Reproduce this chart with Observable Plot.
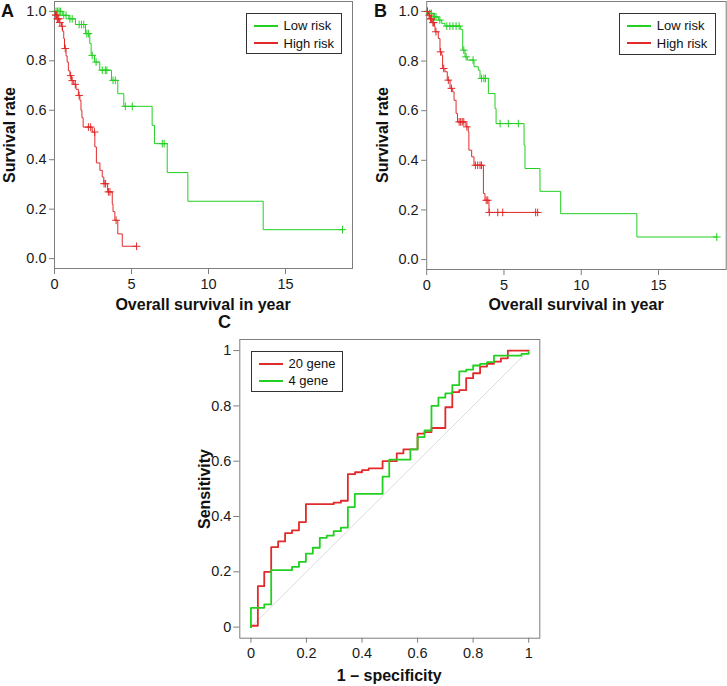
<!DOCTYPE html>
<html>
<head>
<meta charset="utf-8">
<script src="https://cdn.jsdelivr.net/npm/d3@7"></script>
<script src="https://cdn.jsdelivr.net/npm/@observablehq/plot@0.6"></script>
<style>
  html, body { margin: 0; padding: 0; background: #fff; }
  #root { position: relative; width: 727px; height: 686px; overflow: hidden; font-family: "Liberation Sans", Arial, sans-serif; color: #111; }
  .panel { position: absolute; }
  .panel svg { display: block; max-width: none; }
  .ttl { position: absolute; font-weight: bold; font-size: 16px; line-height: 16px; white-space: nowrap; color: #111; }
  .letter { position: absolute; font-weight: bold; font-size: 18px; line-height: 18px; color: #111; }
  .legend { position: absolute; box-sizing: border-box; border: 1px solid #333; background: #fff; font-size: 13px; }
  .legend .sw { position: absolute; height: 2px; }
  .legend .tx { position: absolute; line-height: 13px; white-space: nowrap; color: #111; }
</style>
</head>
<body>
<div id="root"></div>
<script>
// ---------- Data: Kaplan-Meier, panel A ----------
const lowA_t = [0, 0.50, 0.93, 1.36, 2.01, 2.29, 2.38, 2.60, 2.94, 3.70, 4.11, 4.50, 6.34, 6.49, 7.32, 8.66, 13.55];
const lowA_s = [1.0, 0.984, 0.970, 0.947, 0.910, 0.870, 0.822, 0.795, 0.762, 0.721, 0.667, 0.616, 0.539, 0.465, 0.348, 0.232, 0.117];
const lowA_end = 18.7;
const lowA_cens = [0.1, 0.2, 0.3, 0.4, 0.6, 0.75, 1.0, 1.15, 1.6, 1.75, 1.9, 2.1, 2.2, 2.45, 2.7, 3.1, 3.3, 3.4, 3.8, 3.95, 4.6, 5.05, 7.0, 7.12, 18.7];

const highA_t = [0, 0.05, 0.15, 0.3, 0.45, 0.52, 0.6, 0.65, 0.75, 0.82, 0.9, 1.0, 1.1, 1.25, 1.4, 1.55, 1.65, 1.72, 1.78, 1.86, 2.45, 2.62, 2.72, 2.95, 3.1, 3.2, 3.45, 3.75, 3.8, 3.92, 4.11, 4.4];
const highA_s = [1.0, 0.985, 0.97, 0.955, 0.94, 0.92, 0.89, 0.85, 0.82, 0.795, 0.76, 0.74, 0.72, 0.705, 0.685, 0.66, 0.64, 0.60, 0.57, 0.532, 0.512, 0.452, 0.387, 0.357, 0.33, 0.303, 0.27, 0.22, 0.19, 0.155, 0.10, 0.05];
const highA_end = 5.33;
const highA_cens = [0.08, 0.12, 0.18, 0.22, 0.28, 0.35, 0.5, 0.7, 1.05, 1.15, 1.35, 1.6, 2.2, 2.35, 2.6, 3.22, 3.32, 3.5, 3.6, 4.0, 5.33];

// ---------- Data: Kaplan-Meier, panel B ----------
const lowB_t = [0, 0.1, 0.43, 0.75, 0.97, 1.18, 2.2, 2.33, 2.48, 2.63, 3.06, 3.34, 3.45, 3.99, 4.42, 4.49, 6.30, 6.36, 7.33, 8.67, 13.6];
const lowB_s = [1.0, 0.992, 0.978, 0.965, 0.952, 0.941, 0.927, 0.844, 0.817, 0.804, 0.777, 0.763, 0.730, 0.669, 0.609, 0.548, 0.461, 0.367, 0.275, 0.185, 0.091];
const lowB_end = 18.77;
const lowB_cens = [0.05, 0.2, 0.3, 0.5, 0.6, 0.85, 1.3, 1.5, 1.7, 1.9, 2.1, 2.4, 2.55, 3.0, 3.55, 3.7, 3.8, 4.75, 5.28, 5.93, 18.77];

const highB_t = [0, 0.1, 0.2, 0.35, 0.5, 0.54, 0.75, 0.86, 0.97, 1.03, 1.18, 1.33, 1.51, 1.68, 1.77, 1.9, 1.99, 2.54, 2.69, 2.73, 2.91, 3.06, 3.67, 3.77, 4.03];
const highB_s = [1.0, 0.985, 0.97, 0.955, 0.94, 0.918, 0.891, 0.837, 0.824, 0.770, 0.757, 0.723, 0.690, 0.676, 0.642, 0.589, 0.555, 0.535, 0.515, 0.441, 0.414, 0.380, 0.266, 0.239, 0.190];
const highB_end = 7.22;
const highB_cens = [0.05, 0.15, 0.25, 0.3, 0.4, 0.45, 0.6, 0.9, 1.1, 1.4, 1.6, 2.1, 2.2, 2.3, 2.4, 2.6, 3.15, 3.3, 3.45, 3.55, 3.85, 3.95, 4.05, 4.6, 4.92, 7.05, 7.18];

// ---------- Data: ROC, panel C (vertex after each vertical jump) ----------
const roc20_fpr = [0, 0, 0.025, 0.048, 0.073, 0.098, 0.123, 0.148, 0.173, 0.198, 0.298, 0.324, 0.349, 0.375, 0.40, 0.424, 0.474, 0.525, 0.549, 0.60, 0.625, 0.65, 0.70, 0.725, 0.75, 0.775, 0.80, 0.825, 0.85, 0.875, 0.90, 0.925, 1.0];
const roc20_tpr = [0, 0.005, 0.148, 0.20, 0.289, 0.31, 0.34, 0.35, 0.38, 0.445, 0.45, 0.457, 0.553, 0.56, 0.568, 0.574, 0.60, 0.628, 0.643, 0.70, 0.705, 0.72, 0.795, 0.85, 0.857, 0.90, 0.918, 0.942, 0.952, 0.96, 0.972, 1.0, 1.0];
const roc4_fpr = [0, 0, 0.048, 0.073, 0.148, 0.173, 0.198, 0.223, 0.248, 0.273, 0.298, 0.324, 0.349, 0.374, 0.474, 0.498, 0.574, 0.60, 0.625, 0.65, 0.675, 0.70, 0.725, 0.75, 0.775, 0.80, 0.825, 0.85, 0.875, 0.974, 1.0];
const roc4_tpr = [0, 0.07, 0.082, 0.206, 0.218, 0.236, 0.266, 0.287, 0.323, 0.331, 0.347, 0.36, 0.434, 0.482, 0.544, 0.606, 0.643, 0.687, 0.711, 0.80, 0.83, 0.845, 0.875, 0.925, 0.931, 0.946, 0.952, 0.958, 0.982, 0.988, 0.995];
const diag = [0, 1];

// ---------- Tick labels ----------
const kmXTicks = [0, 5, 10, 15];
const kmYTicks = [0, 0.2, 0.4, 0.6, 0.8, 1.0];
const rocTicks = [0, 0.2, 0.4, 0.6, 0.8, 1];

const GREEN = "#22d022";
const RED = "#e22a2a";
const AXIS = "#7d7d7d";
const FONT = "'Liberation Sans', Arial, sans-serif";

function stepData(ts, ss, end) {
  const d = ts.map((t, i) => ({t, s: ss[i]}));
  d.push({t: end, s: ss[ss.length - 1]});
  return d;
}
function censData(ts, ss, cens) {
  return cens.map(c => {
    let s = ss[0];
    for (let i = 0; i < ts.length; i++) if (ts[i] <= c) s = ss[i];
    return {t: c, s};
  });
}

function kmPlot(opts, series) {
  const marks = [
    Plot.frame({stroke: AXIS}),
    Plot.axisX({ticks: kmXTicks, tickSize: 6, tickPadding: 4, stroke: AXIS, label: null}),
    Plot.axisY({ticks: kmYTicks, tickFormat: d3.format(".1f"), tickSize: 5, tickPadding: 3, stroke: AXIS, label: null})
  ];
  for (const s of series) {
    marks.push(Plot.line(stepData(s.t, s.s, s.end), {x: "t", y: "s", curve: "step-after", stroke: s.color, strokeWidth: 1}));
    marks.push(Plot.dot(censData(s.t, s.s, s.cens), {x: "t", y: "s", symbol: "plus", r: 2.6, stroke: s.color, strokeWidth: 1}));
  }
  return Plot.plot({
    ...opts,
    x: {domain: [0, opts.xmax]},
    y: {domain: [-0.04, 1.04]},
    style: {fontFamily: FONT, fontSize: "14.5px", color: "#1a1a1a", background: "transparent", overflow: "visible"},
    marks
  });
}

const root = document.getElementById("root");
function place(el, left, top) {
  const d = document.createElement("div");
  d.className = "panel";
  d.style.left = left + "px";
  d.style.top = top + "px";
  d.appendChild(el);
  root.appendChild(d);
}
function text(cls, str, css) {
  const d = document.createElement("div");
  d.className = cls;
  d.textContent = str;
  Object.assign(d.style, css);
  root.appendChild(d);
}
function legend(left, top, w, h, entries) {
  const box = document.createElement("div");
  box.className = "legend";
  Object.assign(box.style, {left: left + "px", top: top + "px", width: w + "px", height: h + "px"});
  entries.forEach((e, i) => {
    const sw = document.createElement("div");
    sw.className = "sw";
    Object.assign(sw.style, {left: "6.5px", width: "24.5px", top: (10.7 + i * 17.4) + "px", background: e.color});
    box.appendChild(sw);
    const tx = document.createElement("div");
    tx.className = "tx";
    tx.textContent = e.label;
    Object.assign(tx.style, {left: "36.5px", top: (4.9 + i * 17.4) + "px"});
    box.appendChild(tx);
  });
  root.appendChild(box);
}

// Panel A
place(kmPlot({width: 363, height: 300, marginLeft: 54, marginRight: 11, marginTop: 1, marginBottom: 32, xmax: 19.35}, [
  {t: lowA_t, s: lowA_s, end: lowA_end, cens: lowA_cens, color: GREEN},
  {t: highA_t, s: highA_s, end: highA_end, cens: highA_cens, color: RED}
]), 0, 0);

// Panel B
place(kmPlot({width: 364, height: 300, marginLeft: 63.2, marginRight: 1.3, marginTop: 1, marginBottom: 31, xmax: 19.38}, [
  {t: lowB_t, s: lowB_s, end: lowB_end, cens: lowB_cens, color: GREEN},
  {t: highB_t, s: highB_s, end: highB_end, cens: highB_cens, color: RED}
]), 363, 0);

// Panel C
const roc20 = roc20_fpr.map((f, i) => ({f, t: roc20_tpr[i]}));
const roc4 = roc4_fpr.map((f, i) => ({f, t: roc4_tpr[i]}));
place(Plot.plot({
  width: 727, height: 386,
  marginLeft: 239.3, marginRight: 727 - 539.3, marginTop: 39, marginBottom: 386 - 337.7,
  x: {domain: [-0.04, 1.04]},
  y: {domain: [-0.04, 1.04]},
  style: {fontFamily: FONT, fontSize: "14.5px", color: "#1a1a1a", background: "transparent", overflow: "visible"},
  marks: [
    Plot.frame({stroke: AXIS}),
    Plot.axisX({ticks: rocTicks, tickFormat: d => String(d), tickSize: 5, tickPadding: 5, stroke: AXIS, label: null}),
    Plot.axisY({ticks: rocTicks, tickFormat: d => String(d), tickSize: 6, tickPadding: 2.5, stroke: AXIS, label: null}),
    Plot.line(diag, {x: d => d, y: d => d, stroke: "#dcdcdc", strokeWidth: 1}),
    Plot.line(roc20, {x: "f", y: "t", curve: "step-after", stroke: RED, strokeWidth: 1.8}),
    Plot.line(roc4, {x: "f", y: "t", curve: "step-after", stroke: GREEN, strokeWidth: 1.8})
  ]
}), 0, 300);

// Titles and panel letters
text("letter", "A", {left: "1px", top: "1.5px"});
text("letter", "B", {left: "374px", top: "1.5px"});
text("letter", "C", {left: "218px", top: "313px"});
text("ttl", "Survival rate", {left: "9.5px", top: "134.7px", transform: "translate(-50%,-50%) rotate(-90deg)"});
text("ttl", "Survival rate", {left: "382.5px", top: "135px", transform: "translate(-50%,-50%) rotate(-90deg)"});
text("ttl", "Overall survival in year", {left: "203px", top: "296.7px", transform: "translateX(-50%)"});
text("ttl", "Overall survival in year", {left: "576px", top: "296.7px", transform: "translateX(-50%)"});
text("ttl", "Sensitivity", {left: "205px", top: "488.5px", transform: "translate(-50%,-50%) rotate(-90deg)"});
text("ttl", "1 \u2013 specificity", {left: "389.3px", top: "668.4px", transform: "translateX(-50%)"});

// Legends
legend(246, 13.3, 96.3, 41, [{label: "Low risk", color: GREEN}, {label: "High risk", color: RED}]);
legend(619.3, 13.3, 96.4, 41.4, [{label: "Low risk", color: GREEN}, {label: "High risk", color: RED}]);
legend(251, 351, 92.3, 41.3, [{label: "20 gene", color: RED}, {label: "4 gene", color: GREEN}]);
</script>
</body>
</html>
